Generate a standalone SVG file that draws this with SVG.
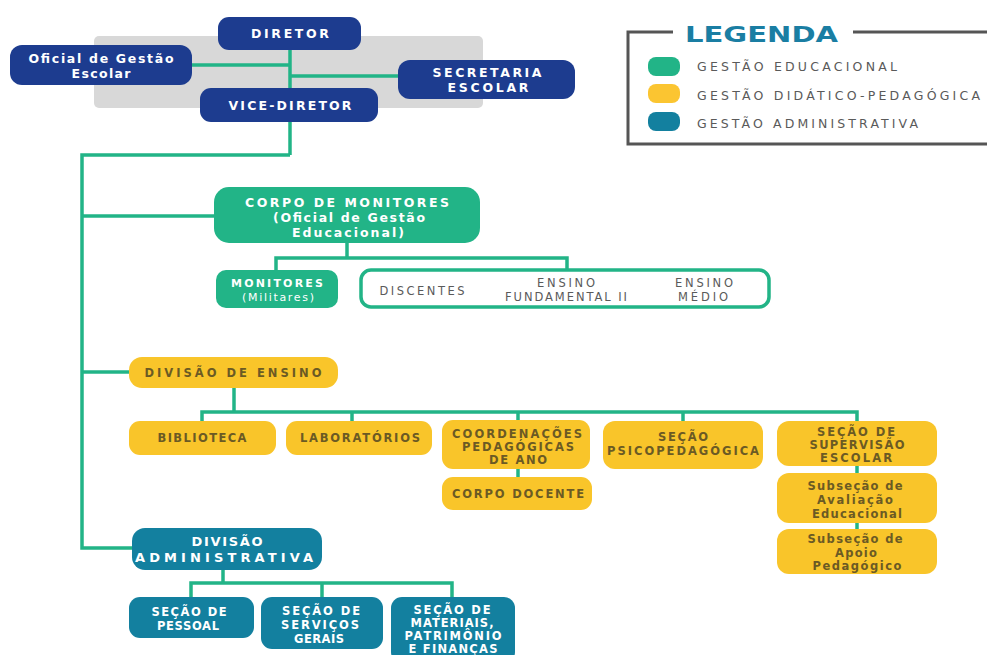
<svg xmlns="http://www.w3.org/2000/svg" width="987" height="655" viewBox="0 0 987 655">
<style>
  .navy{fill:#1d3c8f}
  .grn{fill:#22b487}
  .yel{fill:#f9c52a}
  .blu{fill:#13809f}
  text{font-family:"DejaVu Sans","Liberation Sans",sans-serif;font-weight:bold;text-anchor:middle}
  .tw{fill:#ffffff;font-size:12.5px}
  .ta{fill:#ffffff;font-size:11.5px}
  .ty{fill:#6b5a24;font-size:11.5px}
  .tg{fill:#5a5a5a;font-size:11.5px;font-weight:normal}
  .lg{fill:#5a5a5a;font-size:12.5px;font-weight:normal;text-anchor:start}
  .conn line,.conn path{stroke:#22b487;stroke-width:3.5;fill:none}
</style>
<rect width="987" height="655" fill="#ffffff"/>
<rect id="top-band" x="94" y="36" width="389" height="72" rx="5" fill="#d8d8d8"/>

<g id="connectors" class="conn">
  <line x1="290" y1="50" x2="290" y2="155"/>
  <line x1="191" y1="65" x2="290" y2="65"/>
  <line x1="290" y1="76" x2="398" y2="76"/>
  <path d="M290,155 H82 V548 H132"/>
  <line x1="82" y1="216" x2="214" y2="216"/>
  <line x1="82" y1="372" x2="129" y2="372"/>
  <line x1="347" y1="243" x2="347" y2="258"/>
  <path d="M276,271 V258 H567 V271"/>
  <line x1="234" y1="388" x2="234" y2="412"/>
  <path d="M202,422 V412 H857 V422"/>
  <line x1="352" y1="412" x2="352" y2="422"/>
  <line x1="518" y1="412" x2="518" y2="422"/>
  <line x1="683" y1="412" x2="683" y2="422"/>
  <line x1="518" y1="469" x2="518" y2="478"/>
  <line x1="857" y1="465" x2="857" y2="474"/>
  <line x1="857" y1="522" x2="857" y2="530"/>
  <line x1="223" y1="570" x2="223" y2="583"/>
  <path d="M191,598 V583 H452 V598"/>
  <line x1="322" y1="583" x2="322" y2="598"/>
</g>

<g id="legend">
  <path d="M673,32 H628 V144 H990 M853,32 H990" stroke="#555555" stroke-width="3" fill="none"/>
  <text x="685" y="42" style="font-size:21px;font-weight:900;fill:#1a7ea3;text-anchor:start" textLength="153" lengthAdjust="spacingAndGlyphs">LEGENDA</text>
  <rect x="648" y="57" width="32" height="19" rx="8" class="grn"/>
  <rect x="648" y="84" width="32" height="19" rx="8" fill="#fbc531"/>
  <rect x="648" y="112" width="32" height="19" rx="8" class="blu"/>
  <text x="697" y="71" class="lg" textLength="200">GESTÃO EDUCACIONAL</text>
  <text x="697" y="100" class="lg" textLength="283">GESTÃO DIDÁTICO-PEDAGÓGICA</text>
  <text x="697" y="128" class="lg" textLength="221">GESTÃO ADMINISTRATIVA</text>
</g>

<g id="diretor">
  <rect x="218" y="17" width="143" height="33" rx="11" class="navy"/>
  <text x="290" y="38" class="tw" textLength="78">DIRETOR</text>
</g>
<g id="oficial-gestao-escolar">
  <rect x="10" y="45" width="182" height="40" rx="12" class="navy"/>
  <text x="101" y="63" class="tw" textLength="145">Oficial de Gestão</text>
  <text x="101" y="78" class="tw" textLength="59">Escolar</text>
</g>
<g id="secretaria">
  <rect x="398" y="60" width="177" height="39" rx="12" class="navy"/>
  <text x="487" y="77" class="tw" textLength="109">SECRETARIA</text>
  <text x="488" y="92" class="tw" textLength="81">ESCOLAR</text>
</g>
<g id="vice-diretor">
  <rect x="200" y="88" width="178" height="34" rx="11" class="navy"/>
  <text x="290" y="110" class="tw" textLength="123">VICE-DIRETOR</text>
</g>

<g id="corpo-monitores">
  <rect x="214" y="187" width="266" height="56" rx="15" class="grn"/>
  <text x="347" y="207" class="tw" textLength="204">CORPO DE MONITORES</text>
  <text x="349" y="222" class="tw" textLength="152">(Oficial de Gestão</text>
  <text x="348" y="237" class="tw" textLength="112">Educacional)</text>
</g>
<g id="monitores">
  <rect x="216" y="270" width="122" height="38" rx="10" class="grn"/>
  <text x="277" y="287" class="tw" style="font-size:11px" textLength="92">MONITORES</text>
  <text x="278" y="301" class="tw" style="font-size:11px;font-weight:normal" textLength="72">(Militares)</text>
</g>
<g id="discentes">
  <rect x="361" y="270" width="408" height="37" rx="10" fill="#ffffff" stroke="#22b487" stroke-width="3.5"/>
  <text x="422" y="295" class="tg" textLength="85">DISCENTES</text>
  <text x="566" y="287" class="tg" textLength="58">ENSINO</text>
  <text x="566" y="301" class="tg" textLength="122">FUNDAMENTAL II</text>
  <text x="704" y="287" class="tg" textLength="58">ENSINO</text>
  <text x="703" y="301" class="tg" textLength="50">MÉDIO</text>
</g>

<g id="divisao-ensino">
  <rect x="129" y="357" width="209" height="31" rx="13" class="yel"/>
  <text x="233" y="377" class="ty" textLength="177">DIVISÃO DE ENSINO</text>
</g>
<g id="biblioteca">
  <rect x="129" y="421" width="147" height="34" rx="11" class="yel"/>
  <text x="202" y="442" class="ty" textLength="89">BIBLIOTECA</text>
</g>
<g id="laboratorios">
  <rect x="286" y="421" width="146" height="34" rx="11" class="yel"/>
  <text x="360" y="442" class="ty" textLength="120">LABORATÓRIOS</text>
</g>
<g id="coordenacoes">
  <rect x="442" y="420" width="148" height="49" rx="11" class="yel"/>
  <text x="517" y="438" class="ty" textLength="130">COORDENAÇÕES</text>
  <text x="518" y="451" class="ty" textLength="112">PEDAGÓGICAS</text>
  <text x="518" y="464" class="ty" textLength="58">DE ANO</text>
</g>
<g id="corpo-docente">
  <rect x="442" y="477" width="150" height="33" rx="11" class="yel"/>
  <text x="518" y="498" class="ty" textLength="132">CORPO DOCENTE</text>
</g>
<g id="secao-psicopedagogica">
  <rect x="603" y="421" width="160" height="48" rx="12" class="yel"/>
  <text x="683" y="441" class="ty" textLength="50">SEÇÃO</text>
  <text x="683" y="455" class="ty" textLength="152">PSICOPEDAGÓGICA</text>
</g>
<g id="secao-supervisao">
  <rect x="777" y="421" width="160" height="45" rx="12" class="yel"/>
  <text x="856" y="436" class="ty" textLength="78">SEÇÃO DE</text>
  <text x="857" y="449" class="ty" textLength="95">SUPERVISÃO</text>
  <text x="856" y="462" class="ty" textLength="72">ESCOLAR</text>
</g>
<g id="subsecao-avaliacao">
  <rect x="777" y="473" width="160" height="50" rx="12" class="yel"/>
  <text x="855" y="490" class="ty" textLength="95">Subseção de</text>
  <text x="855" y="504" class="ty" textLength="76">Avaliação</text>
  <text x="857" y="518" class="ty" textLength="90">Educacional</text>
</g>
<g id="subsecao-apoio">
  <rect x="777" y="529" width="160" height="45" rx="12" class="yel"/>
  <text x="855" y="543" class="ty" textLength="95">Subseção de</text>
  <text x="856" y="557" class="ty" textLength="42">Apoio</text>
  <text x="857" y="570" class="ty" textLength="89">Pedagógico</text>
</g>

<g id="divisao-administrativa">
  <rect x="132" y="528" width="190" height="42" rx="13" class="blu"/>
  <text x="227" y="546" class="tw" style="font-size:13px" textLength="71">DIVISÃO</text>
  <text x="224" y="562" class="tw" style="font-size:13px" textLength="178">ADMINISTRATIVA</text>
</g>
<g id="secao-pessoal">
  <rect x="129" y="597" width="125" height="41" rx="11" class="blu"/>
  <text x="189" y="616" class="ta" textLength="75">SEÇÃO DE</text>
  <text x="188" y="630" class="ta" textLength="62">PESSOAL</text>
</g>
<g id="secao-servicos">
  <rect x="261" y="597" width="122" height="52" rx="11" class="blu"/>
  <text x="321" y="615" class="ta" textLength="78">SEÇÃO DE</text>
  <text x="320" y="629" class="ta" textLength="78">SERVIÇOS</text>
  <text x="319" y="643" class="ta" textLength="50">GERAIS</text>
</g>
<g id="secao-materiais">
  <rect x="391" y="597" width="124" height="66" rx="11" class="blu"/>
  <text x="452" y="614" class="ta" textLength="77">SEÇÃO DE</text>
  <text x="452" y="627" class="ta" textLength="83">MATERIAIS,</text>
  <text x="453" y="640" class="ta" textLength="97">PATRIMÔNIO</text>
  <text x="453" y="653" class="ta" textLength="89">E FINANÇAS</text>
</g>
</svg>
